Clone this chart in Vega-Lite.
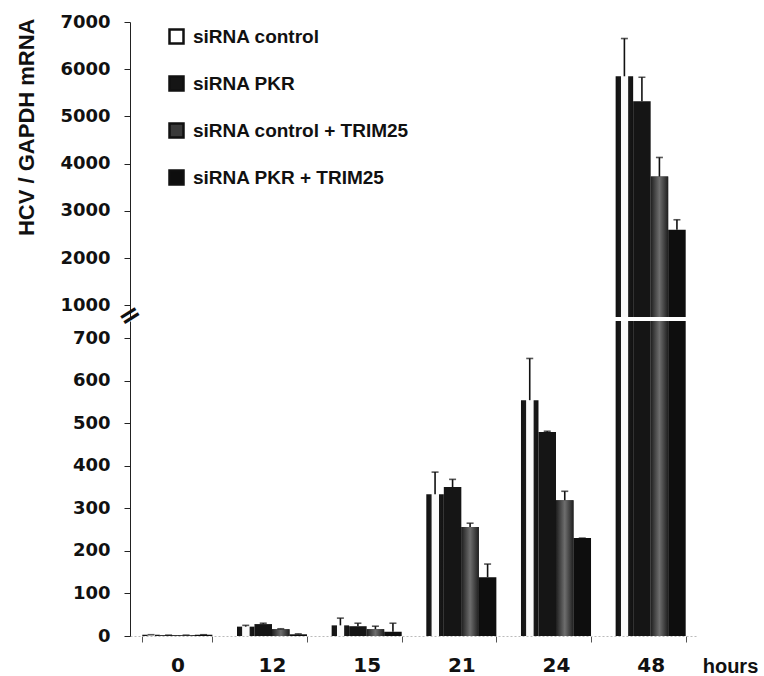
{
  "$schema": "https://vega.github.io/schema/vega-lite/v6.json",
  "padding": {"left": 15, "top": 13, "right": 60, "bottom": 0},
  "background": "white",
  "data": {"values": [
    {"hour": "0", "series": "siRNA control", "value": 3, "err": 3},
    {"hour": "0", "series": "siRNA PKR", "value": 2, "err": 2},
    {"hour": "0", "series": "siRNA control + TRIM25", "value": 2, "err": 2},
    {"hour": "0", "series": "siRNA PKR + TRIM25", "value": 3, "err": 3},
    {"hour": "12", "series": "siRNA control", "value": 22, "err": 25},
    {"hour": "12", "series": "siRNA PKR", "value": 28, "err": 30},
    {"hour": "12", "series": "siRNA control + TRIM25", "value": 16, "err": 17},
    {"hour": "12", "series": "siRNA PKR + TRIM25", "value": 4, "err": 5},
    {"hour": "15", "series": "siRNA control", "value": 25, "err": 42},
    {"hour": "15", "series": "siRNA PKR", "value": 23, "err": 30},
    {"hour": "15", "series": "siRNA control + TRIM25", "value": 16, "err": 23},
    {"hour": "15", "series": "siRNA PKR + TRIM25", "value": 10, "err": 30},
    {"hour": "21", "series": "siRNA control", "value": 333, "err": 385},
    {"hour": "21", "series": "siRNA PKR", "value": 350, "err": 368},
    {"hour": "21", "series": "siRNA control + TRIM25", "value": 256, "err": 265},
    {"hour": "21", "series": "siRNA PKR + TRIM25", "value": 138, "err": 169},
    {"hour": "24", "series": "siRNA control", "value": 554, "err": 652},
    {"hour": "24", "series": "siRNA PKR", "value": 479, "err": 481},
    {"hour": "24", "series": "siRNA control + TRIM25", "value": 319, "err": 340},
    {"hour": "24", "series": "siRNA PKR + TRIM25", "value": 230, "err": 230},
    {"hour": "48", "series": "siRNA control", "value": 5850, "err": 6650},
    {"hour": "48", "series": "siRNA PKR", "value": 5320, "err": 5830},
    {"hour": "48", "series": "siRNA control + TRIM25", "value": 3725, "err": 4130},
    {"hour": "48", "series": "siRNA PKR + TRIM25", "value": 2600, "err": 2810}
  ]},
  "vconcat": [
    {
      "width": 568,
      "height": 295,
      "layer": [
        {
          "mark": {"type": "bar", "clip": true},
          "encoding": {
            "x": {"field": "hour", "type": "ordinal", "sort": ["0","12","15","21","24","48"], "scale": {"domain": ["0","12","15","21","24","48"], "paddingInner": 0.26, "paddingOuter": 0.13}, "axis": null},
            "xOffset": {"field": "series", "type": "nominal", "scale": {"domain": ["siRNA control","siRNA PKR","siRNA control + TRIM25","siRNA PKR + TRIM25"], "paddingInner": 0, "paddingOuter": 0}},
            "y": {"field": "value", "type": "quantitative", "scale": {"domain": [750, 7000], "nice": false, "zero": false},
              "axis": {"values": [1000,2000,3000,4000,5000,6000,7000], "format": "d", "title": "HCV / GAPDH mRNA",
                "titleFont": "Liberation Sans", "titleFontSize": 22, "titleFontWeight": "bold", "titleColor": "#111",
                "titleAngle": 270, "titleAlign": "right", "titleBaseline": "middle", "titleX": -104, "titleY": -4}},
            "color": {"field": "series", "type": "nominal",
              "scale": {"domain": ["siRNA control","siRNA PKR","siRNA control + TRIM25","siRNA PKR + TRIM25"], "range": ["#ffffff","#151515","#3a3a3a","#0e0e0e"]},
              "legend": {"orient": "none", "legendX": 37, "legendY": 5, "title": null, "symbolType": "square", "symbolSize": 196,
                "symbolStrokeColor": "#111", "symbolStrokeWidth": 2.5, "labelFont": "Liberation Sans", "labelFontSize": 19, "labelFontWeight": "bold",
                "labelColor": "#111", "labelOffset": 7, "rowPadding": 22, "labelLimit": 0, "symbolOpacity": 1}}
          }
        },
        {
          "transform": [{"filter": "datum.series === 'siRNA control'"}],
          "mark": {"type": "bar", "clip": true, "fill": {"gradient": "linear", "x1": 0, "y1": 0, "x2": 1, "y2": 0, "stops": [
            {"offset": 0, "color": "#111111"}, {"offset": 0.28, "color": "#1a1a1a"}, {"offset": 0.32, "color": "#fafafa"},
            {"offset": 0.7, "color": "#fafafa"}, {"offset": 0.74, "color": "#1a1a1a"}, {"offset": 1, "color": "#111111"}]}},
          "encoding": {
            "x": {"field": "hour", "type": "ordinal", "sort": ["0","12","15","21","24","48"]},
            "xOffset": {"field": "series", "type": "nominal"},
            "y": {"field": "value", "type": "quantitative"}
          }
        },
        {
          "transform": [{"filter": "datum.series === 'siRNA control + TRIM25'"}],
          "mark": {"type": "bar", "clip": true, "fill": {"gradient": "linear", "x1": 0, "y1": 0, "x2": 1, "y2": 0, "stops": [
            {"offset": 0, "color": "#1e1e1e"}, {"offset": 0.5, "color": "#6e6e6e"}, {"offset": 1, "color": "#1e1e1e"}]}},
          "encoding": {
            "x": {"field": "hour", "type": "ordinal", "sort": ["0","12","15","21","24","48"]},
            "xOffset": {"field": "series", "type": "nominal"},
            "y": {"field": "value", "type": "quantitative"}
          }
        },
        {
          "mark": {"type": "rule", "clip": true, "color": "#111", "strokeWidth": 1.6},
          "encoding": {
            "x": {"field": "hour", "type": "ordinal", "sort": ["0","12","15","21","24","48"]},
            "xOffset": {"field": "series", "type": "nominal"},
            "y": {"field": "value", "type": "quantitative"},
            "y2": {"field": "err"}
          }
        },
        {
          "mark": {"type": "tick", "clip": true, "color": "#111", "orient": "horizontal", "size": 7, "thickness": 1.6},
          "encoding": {
            "x": {"field": "hour", "type": "ordinal", "sort": ["0","12","15","21","24","48"]},
            "xOffset": {"field": "series", "type": "nominal"},
            "y": {"field": "err", "type": "quantitative"}
          }
        }
      ]
    },
    {
      "width": 568,
      "height": 315,
      "layer": [
        {
          "mark": {"type": "bar", "clip": true},
          "encoding": {
            "x": {"field": "hour", "type": "ordinal", "sort": ["0","12","15","21","24","48"], "scale": {"domain": ["0","12","15","21","24","48"], "paddingInner": 0.26, "paddingOuter": 0.13},
              "axis": {"title": "hours", "labelAngle": 0, "tickBand": "extent", "tickSize": 6, "tickColor": "#555", "domainColor": "#bbbbbb", "domainDash": [2, 2],
                "labelFont": "DejaVu Sans", "labelFontSize": 20, "labelFontWeight": "bold", "labelColor": "#111", "labelPadding": 13,
                "titleFont": "Liberation Sans", "titleFontSize": 20, "titleFontWeight": "bold", "titleColor": "#111",
                "titleX": 600, "titleY": 36, "titleAlign": "center", "titleBaseline": "alphabetic"}},
            "xOffset": {"field": "series", "type": "nominal", "scale": {"domain": ["siRNA control","siRNA PKR","siRNA control + TRIM25","siRNA PKR + TRIM25"], "paddingInner": 0, "paddingOuter": 0}},
            "y": {"field": "value", "type": "quantitative", "scale": {"domain": [0, 740], "nice": false},
              "axis": {"values": [0,100,200,300,400,500,600,700], "title": null}},
            "color": {"field": "series", "type": "nominal",
              "scale": {"domain": ["siRNA control","siRNA PKR","siRNA control + TRIM25","siRNA PKR + TRIM25"], "range": ["#ffffff","#151515","#3a3a3a","#0e0e0e"]},
              "legend": null}
          }
        },
        {
          "transform": [{"filter": "datum.series === 'siRNA control'"}],
          "mark": {"type": "bar", "clip": true, "fill": {"gradient": "linear", "x1": 0, "y1": 0, "x2": 1, "y2": 0, "stops": [
            {"offset": 0, "color": "#111111"}, {"offset": 0.28, "color": "#1a1a1a"}, {"offset": 0.32, "color": "#fafafa"},
            {"offset": 0.7, "color": "#fafafa"}, {"offset": 0.74, "color": "#1a1a1a"}, {"offset": 1, "color": "#111111"}]}},
          "encoding": {
            "x": {"field": "hour", "type": "ordinal", "sort": ["0","12","15","21","24","48"]},
            "xOffset": {"field": "series", "type": "nominal"},
            "y": {"field": "value", "type": "quantitative"}
          }
        },
        {
          "transform": [{"filter": "datum.series === 'siRNA control + TRIM25'"}],
          "mark": {"type": "bar", "clip": true, "fill": {"gradient": "linear", "x1": 0, "y1": 0, "x2": 1, "y2": 0, "stops": [
            {"offset": 0, "color": "#1e1e1e"}, {"offset": 0.5, "color": "#6e6e6e"}, {"offset": 1, "color": "#1e1e1e"}]}},
          "encoding": {
            "x": {"field": "hour", "type": "ordinal", "sort": ["0","12","15","21","24","48"]},
            "xOffset": {"field": "series", "type": "nominal"},
            "y": {"field": "value", "type": "quantitative"}
          }
        },
        {
          "mark": {"type": "rule", "clip": true, "color": "#111", "strokeWidth": 1.6},
          "encoding": {
            "x": {"field": "hour", "type": "ordinal", "sort": ["0","12","15","21","24","48"]},
            "xOffset": {"field": "series", "type": "nominal"},
            "y": {"field": "value", "type": "quantitative"},
            "y2": {"field": "err"}
          }
        },
        {
          "mark": {"type": "tick", "clip": true, "color": "#111", "orient": "horizontal", "size": 7, "thickness": 1.6},
          "encoding": {
            "x": {"field": "hour", "type": "ordinal", "sort": ["0","12","15","21","24","48"]},
            "xOffset": {"field": "series", "type": "nominal"},
            "y": {"field": "err", "type": "quantitative"}
          }
        },
        {
          "data": {"values": [{"marker": "axis break"}]},
          "mark": {"type": "text", "text": "=", "angle": -32, "fontSize": 27, "fontWeight": "bold", "font": "DejaVu Sans", "color": "#111", "align": "center", "baseline": "middle"},
          "encoding": {
            "x": {"value": 0},
            "y": {"datum": 752}
          }
        }
      ]
    }
  ],
  "spacing": 4,
  "bounds": "flush",
  "resolve": {"scale": {"color": "independent"}, "legend": {"color": "independent"}},
  "config": {
    "view": {"stroke": null},
    "axis": {"grid": false},
    "axisY": {"labelFont": "DejaVu Sans", "labelFontSize": 18, "labelFontWeight": "bold", "labelColor": "#111",
      "tickSize": 6, "tickColor": "#222", "domainColor": "#222", "labelPadding": 14}
  }
}
